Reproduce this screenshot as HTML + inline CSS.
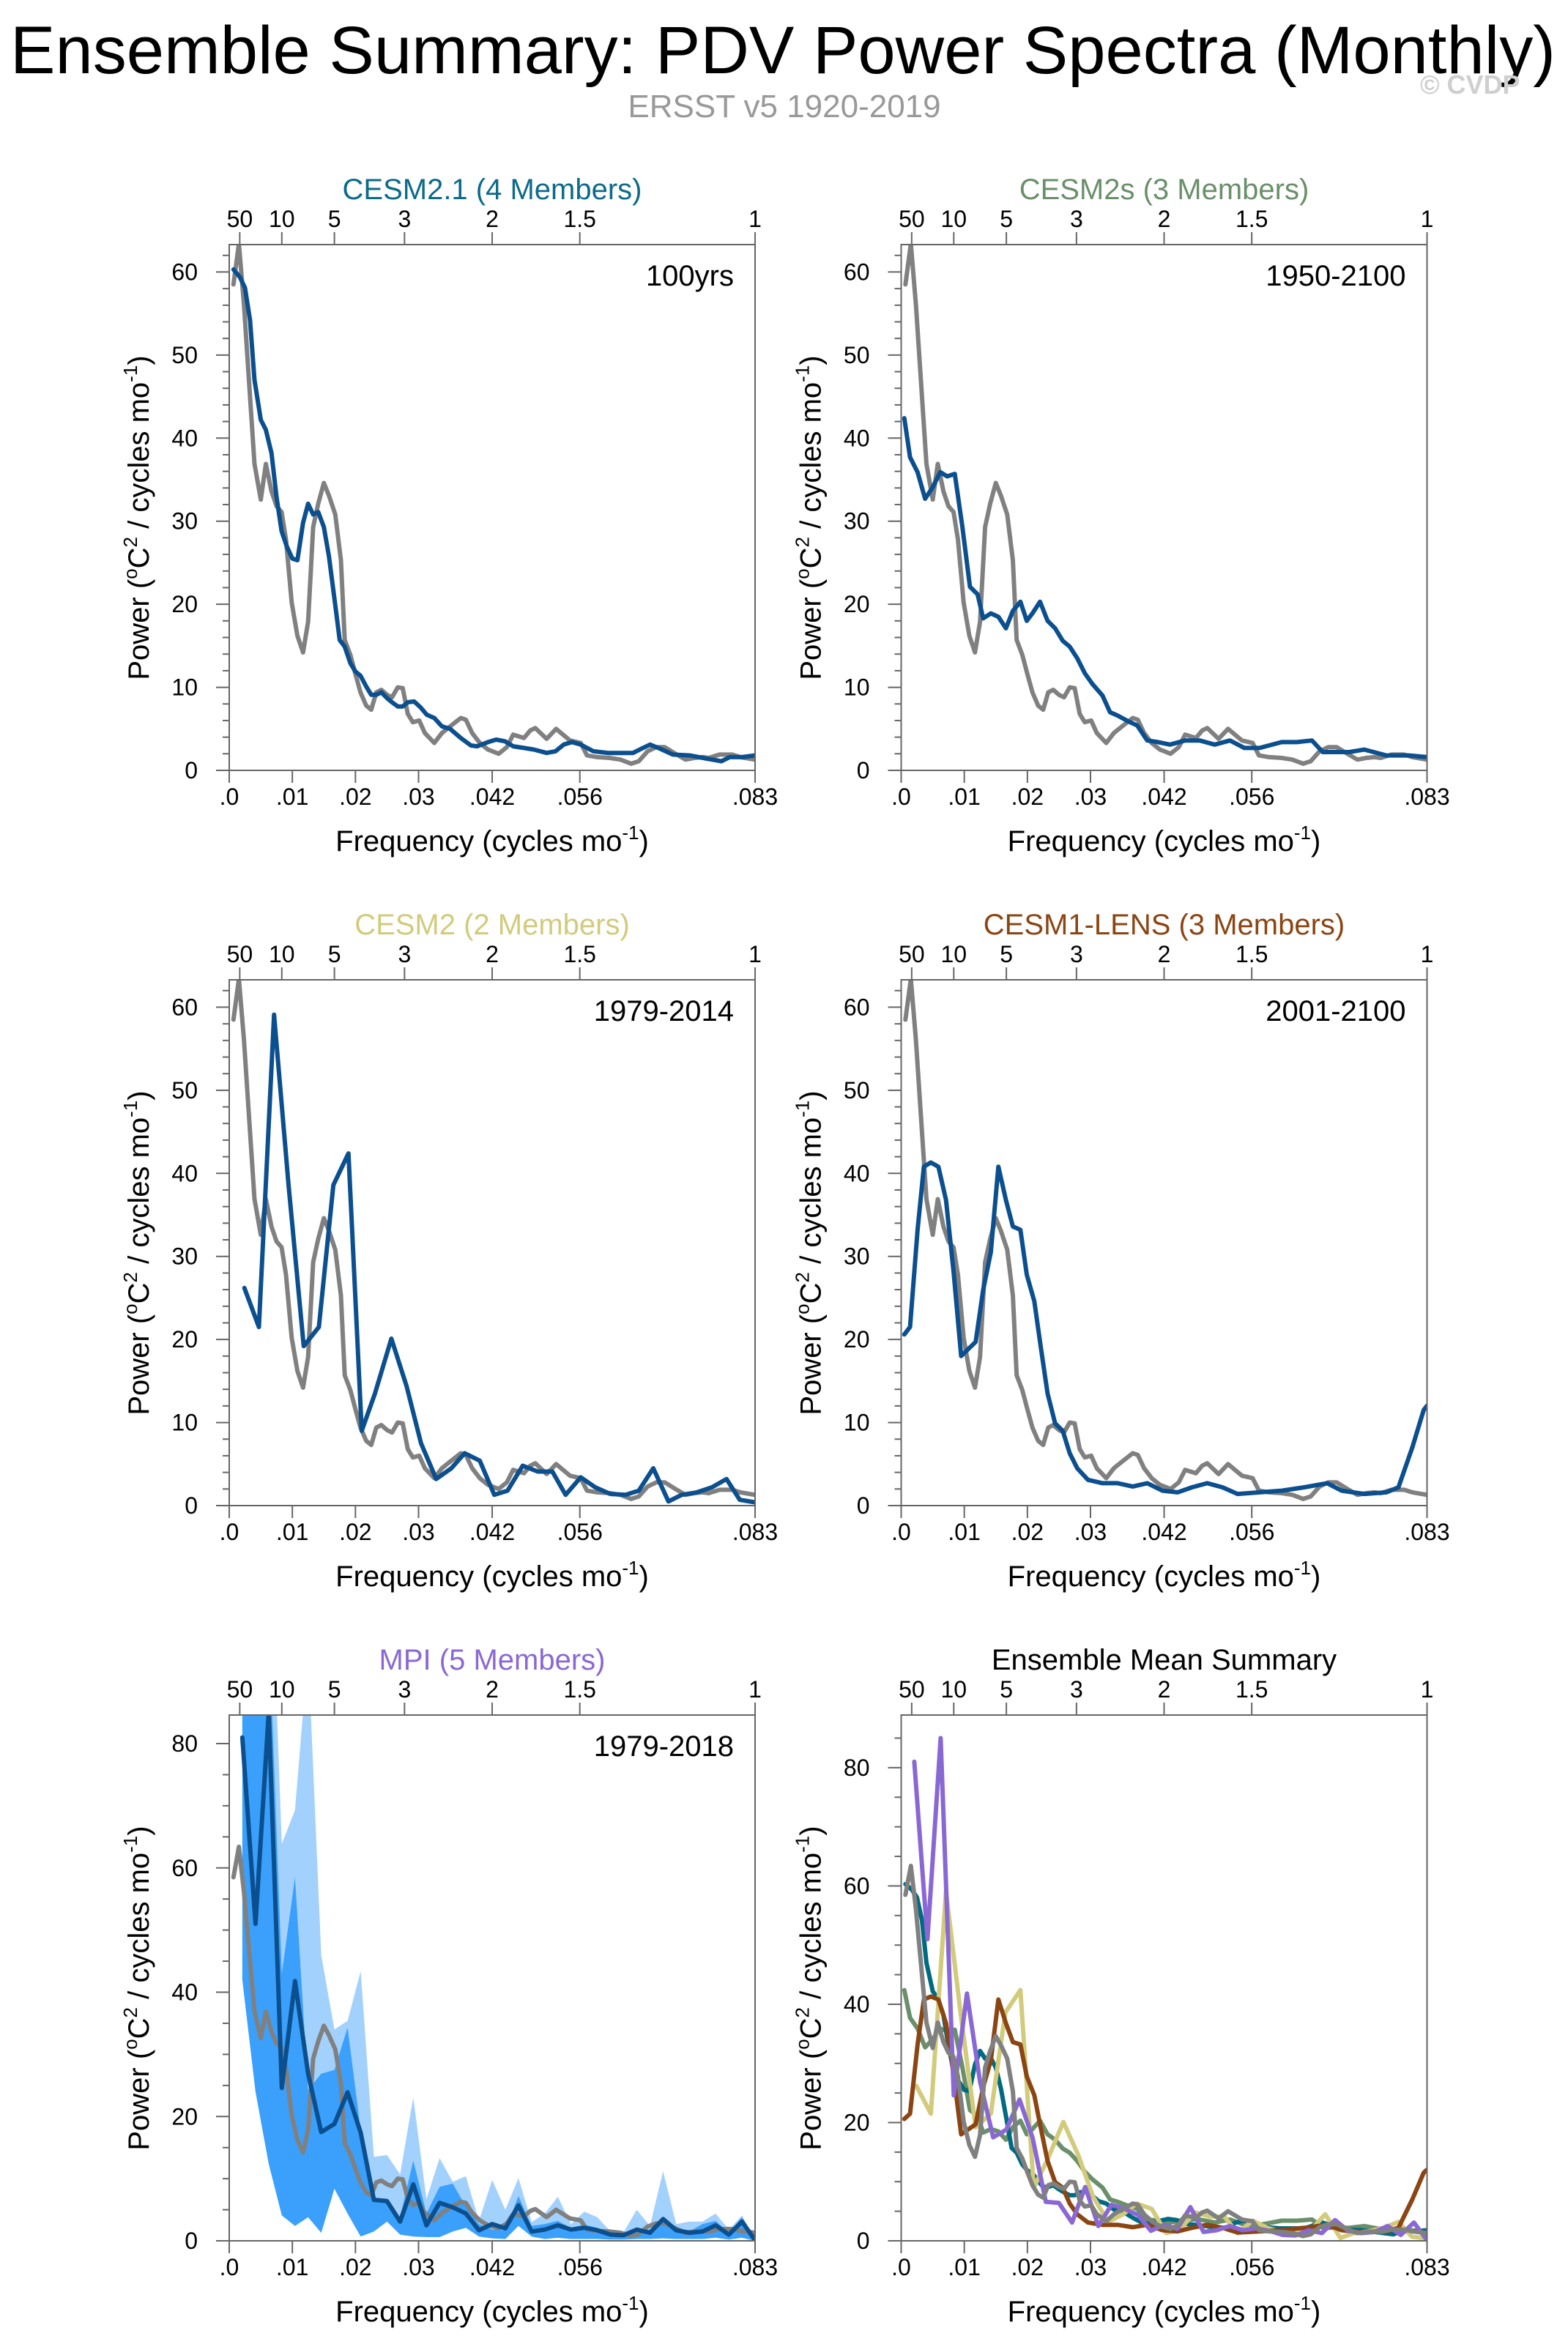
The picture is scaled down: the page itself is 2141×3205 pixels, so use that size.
<!DOCTYPE html>
<html><head><meta charset="utf-8"><title>Ensemble Summary: PDV Power Spectra (Monthly)</title>
<style>
html,body{margin:0;padding:0;background:#fff;}
svg{display:block;font-family:"Liberation Sans",Arial,sans-serif;}
</style></head>
<body>
<svg id="fig" xmlns="http://www.w3.org/2000/svg" width="2141" height="3205" viewBox="0 0 2141 3205">
<rect x="0" y="0" width="2141" height="3205" fill="#fff"/>
<text x="14" y="100" font-size="92" textLength="2110" lengthAdjust="spacingAndGlyphs" fill="#000">Ensemble Summary: PDV Power Spectra (Monthly)</text>
<text x="1071" y="160" font-size="44" text-anchor="middle" fill="#999">ERSST v5 1920-2019</text>
<text x="1939" y="128" font-size="36" font-weight="bold" fill="#cfcfcf">© CVDP</text>
<g id="plots"></g>
</svg>
<script>
// ---------- DATA ----------
const obsFreq=[0.00067,0.00153,0.00233,0.0033,0.004,0.005,0.0058,0.0067,0.0075,0.0083,0.009,0.0099,0.0108,0.0117,0.0125,0.0133,0.0141,0.015,0.0158,0.0168,0.0177,0.0183,0.0192,0.02,0.0208,0.0217,0.0225,0.0233,0.0241,0.025,0.0258,0.0267,0.0275,0.0283,0.0291,0.0301,0.031,0.0325,0.0337,0.035,0.0367,0.0375,0.0385,0.0397,0.041,0.0427,0.044,0.045,0.0467,0.0477,0.0485,0.0503,0.0518,0.054,0.0557,0.0567,0.0583,0.0603,0.062,0.0637,0.0649,0.0663,0.0677,0.069,0.0707,0.0723,0.0737,0.075,0.076,0.0777,0.0797,0.081,0.0833];
const obsPow=[58.5,63.4,56.1,45,36.9,32.6,36.9,33.6,31.8,31.1,27.8,20.2,16.2,14.2,17.9,29.3,32.1,34.6,33.1,30.8,25.3,15.7,13.9,11.6,9.4,7.8,7.3,9.4,9.7,9.1,8.8,10,9.9,6.8,5.8,6,4.5,3.3,4.5,5.3,6.3,6.1,4.5,3.3,2.5,2,2.8,4.3,3.9,4.8,5.1,3.8,5,3.6,3.3,1.8,1.6,1.5,1.3,0.8,1.1,2.3,2.8,2.8,2,1.3,1.5,1.6,1.5,1.9,1.9,1.6,1.3];

const c21Freq=[0.00067,0.00167,0.0025,0.0033,0.004,0.005,0.0058,0.0067,0.0075,0.0083,0.0091,0.01,0.0108,0.0117,0.0125,0.0133,0.0141,0.015,0.0158,0.0167,0.0175,0.0183,0.0192,0.02,0.0208,0.0217,0.0225,0.0233,0.0241,0.025,0.0258,0.0267,0.0275,0.0283,0.0293,0.0303,0.0313,0.0325,0.0337,0.035,0.0367,0.0383,0.0393,0.041,0.0423,0.0437,0.045,0.0467,0.0483,0.0503,0.0517,0.053,0.0543,0.0557,0.0577,0.06,0.0623,0.064,0.0653,0.0667,0.0683,0.0703,0.073,0.0757,0.078,0.0793,0.0813,0.0833];
const c21Pow=[60.3,59.4,58.1,54.2,47,42.2,41,38.2,32.9,28.8,27,25.5,25.3,29.8,32.1,30.8,31.1,29.3,25.8,20.5,15.7,14.9,12.9,11.9,11.4,10.1,9.1,9.1,9.4,8.7,8.2,7.7,7.7,8.2,8.3,7.6,6.7,6.3,5.3,5,3.9,3,2.9,3.4,3.7,3.5,2.9,2.7,2.5,2.1,2.3,3.1,3.4,3.1,2.3,2.1,2.1,2.1,2.6,3.1,2.6,1.9,1.8,1.4,1.1,1.6,1.6,1.8];

const c2sFreq=[0.0005,0.0014,0.0026,0.0038,0.005,0.0062,0.0073,0.0085,0.0097,0.0109,0.0121,0.013,0.0142,0.0154,0.0166,0.0177,0.0189,0.0199,0.0208,0.022,0.0232,0.0244,0.0256,0.0267,0.0279,0.0291,0.0303,0.0319,0.0331,0.0343,0.036,0.0374,0.039,0.0407,0.0426,0.045,0.0473,0.0497,0.0521,0.0544,0.0568,0.0603,0.0627,0.0651,0.0668,0.071,0.0734,0.0769,0.0805,0.0833];
const c2sPow=[42.4,37.7,35.9,32.7,34.1,35.9,35.4,35.7,29.3,22.1,21.2,18.3,18.9,18.5,17.1,19.2,20.3,18,18.9,20.3,18,17.1,15.6,14.9,13.5,11.7,10.4,9,7,6.6,5.9,5.4,3.6,3.4,3.1,3.6,3.6,3.1,3.6,2.7,2.7,3.4,3.4,3.6,2.2,2.2,2.5,1.8,1.8,1.6];

const c2Freq=[0.0024,0.0047,0.0071,0.0094,0.0118,0.0142,0.0165,0.0189,0.021,0.0231,0.0257,0.0281,0.0304,0.0328,0.0352,0.0373,0.0397,0.042,0.0441,0.0465,0.0489,0.0512,0.0533,0.0557,0.058,0.0604,0.0628,0.0649,0.0672,0.0696,0.0717,0.0741,0.0765,0.0788,0.0809,0.0833];
const c2Pow=[26.2,21.5,59.1,38.6,19.2,21.5,38.6,42.4,9,13.5,20.1,14.4,7.5,3.2,4.5,6.3,5.4,1.3,1.8,4.8,4.1,4.1,1.3,3.4,2.2,1.4,1.3,1.8,4.5,0.5,1.3,1.6,2.2,3.2,0.7,0.4];

const lensFreq=[0.0005,0.0014,0.0026,0.0036,0.0047,0.0059,0.0071,0.0083,0.0095,0.0107,0.0118,0.013,0.0142,0.0154,0.0166,0.0177,0.0189,0.0199,0.0211,0.022,0.0232,0.0244,0.0256,0.0267,0.0279,0.0296,0.0319,0.0343,0.0367,0.039,0.0414,0.0438,0.0461,0.0485,0.0509,0.0533,0.0568,0.0603,0.0639,0.0675,0.0698,0.0734,0.0769,0.0788,0.081,0.0828,0.0833];
const lensPow=[20.6,21.5,33.2,40.8,41.3,40.8,36.8,28.2,18,18.9,19.7,26,30.5,40.8,36.8,33.6,33.2,27.8,24.6,19.7,13.5,9.9,9,6.3,4.5,3.1,2.7,2.7,2.3,2.7,1.8,1.6,2.2,2.7,2.2,1.4,1.6,1.8,2.2,2.7,1.8,1.4,1.6,2.2,7,11.5,12];

const mpiFreq=[0.00208,0.00417,0.00625,0.00833,0.01042,0.0125,0.01458,0.01667,0.01875,0.02083,0.02292,0.025,0.02708,0.02917,0.03125,0.03333,0.03542,0.0375,0.03958,0.04167,0.04375,0.04583,0.04792,0.05,0.05208,0.05417,0.05625,0.05833,0.06042,0.0625,0.06458,0.06667,0.06875,0.07083,0.07292,0.075,0.07708,0.07917,0.08125,0.08333];
const mpiPow=[81,51,85,24.6,41.8,26.9,17.5,18.8,23.9,17.4,6.6,6.4,3.1,9.1,2.5,6.1,5.4,4.4,1.7,2.7,2,5.7,1.5,1.8,2.5,1.8,2.1,1.7,1,0.9,1.8,1.3,3.5,1.7,1.3,1.5,2.5,1,3.1,0.1];
const mpiMax=[100,110,120,63.9,69.3,95,46,34,35.4,43.4,13.5,13.8,10.7,23.1,6.7,13.3,9.5,10.4,3.2,9.8,5,10.1,3,4.4,7.1,2.7,4.7,3.8,1.5,1.4,5,2.4,11.2,2.7,3.1,3.1,4.4,1.8,4.1,0.1];
const mpiUpper=[100,100,100,43,58.5,24.3,26.9,27.5,34.3,17.8,6.7,6.1,3.8,12.9,4.4,8.7,9.2,5.5,2.7,1.8,1.7,7.2,2.4,2.7,3.2,2.1,2.6,2.1,1.3,1.2,1.5,1.8,3.5,2.1,1.5,2.7,3.2,1.3,3.8,0.1];
const mpiLower=[42,24,12.4,4.1,2.4,3.8,1.3,8.4,4.4,0.7,1.5,3.1,1,0.7,0.6,0.6,1.5,2.1,0.7,0.4,0.3,2.4,0.7,0.3,0.5,0.3,0.3,0.3,0.2,0.2,0.3,0.3,0.4,0.3,0.3,0.3,0.5,0.2,0.5,0];

const xTickVals=[0,0.01,0.02,0.03,0.04167,0.05556,0.08333];
const xTickLabels=[".0",".01",".02",".03",".042",".056",".083"];
const topTickVals=[1/600,1/120,1/60,1/36,1/24,1/18,1/12];
const topTickLabels=["50","10","5","3","2","1.5","1"];

// ---------- LAYOUT ----------
const NS="http://www.w3.org/2000/svg";
const root=document.getElementById('plots');
const COLX=[313,1230.5], ROWT=[334,1338,2342], PW=718, PH=718, XMAX=0.08333;
function mk(tag,attrs,parent){const e=document.createElementNS(NS,tag);for(const k in attrs)e.setAttribute(k,attrs[k]);(parent||root).appendChild(e);return e;}

function panel(col,row,ymax,major,minor,title,titleColor,label,pname){
  const L=COLX[col],T=ROWT[row],B=T+PH,R=L+PW;
  const g=mk('g',{});
  
  
  const P={L,T,B,R,g,ymax,
    x:f=>L+f/XMAX*PW,
    y:v=>B-v/ymax*PH};
  const cid='clip-'+pname;
  const cp=mk('clipPath',{id:cid},g);mk('rect',{x:L,y:T,width:PW,height:PH},cp);
  P.data=mk('g',{'clip-path':'url(#'+cid+')'},g);
  
  
  const t=mk('text',{x:(L+R)/2,y:T-62,'font-size':40,'text-anchor':'middle',fill:titleColor},g);t.textContent=title;
  
  
  if(label){const lb=mk('text',{x:R-29,y:T+56,'font-size':40,'text-anchor':'end',fill:'#000'},g);lb.textContent=label;
    
    }
  const ax=mk('g',{stroke:'#666','stroke-width':2},g);
  
  
  for(let v=0;v<=ymax+1e-6;v+=minor){
    const yy=P.y(v);const isMaj=Math.abs(v/major-Math.round(v/major))<1e-6;
    mk('line',{x1:L,x2:L-(isMaj?18:9),y1:yy,y2:yy},ax);
    if(isMaj){const tl=mk('text',{x:L-43,y:yy+11,'font-size':32,'text-anchor':'end',fill:'#000',stroke:'none'},g);tl.textContent=String(v);
      
      }
  }
  xTickVals.forEach((f,i)=>{const xx=P.x(f);mk('line',{x1:xx,x2:xx,y1:B,y2:B+17},ax);
    const tl=mk('text',{x:xx,y:B+47,'font-size':32,'text-anchor':'middle',fill:'#000',stroke:'none'},g);tl.textContent=xTickLabels[i];
    
    });
  topTickVals.forEach((f,i)=>{const xx=P.x(f);mk('line',{x1:xx,x2:xx,y1:T,y2:T-17},ax);
    const tl=mk('text',{x:xx,y:T-24,'font-size':32,'text-anchor':'middle',fill:'#000',stroke:'none'},g);tl.textContent=topTickLabels[i];
    
    });
  const yt=mk('text',{transform:`translate(${L-110},${(T+B)/2+14}) rotate(-90)`,'font-size':40,'text-anchor':'middle',fill:'#000'},g);
  yt.innerHTML='Power (<tspan dy="-16" font-size="26">o</tspan><tspan dy="16">C</tspan><tspan dy="-16" font-size="26">2</tspan><tspan dy="16"> / cycles mo</tspan><tspan dy="-16" font-size="26">-1</tspan><tspan dy="16">)</tspan>';
  
  
  const xt=mk('text',{x:(L+R)/2,y:B+110,'font-size':40,'text-anchor':'middle',fill:'#000'},g);
  xt.innerHTML='Frequency (cycles mo<tspan dy="-16" font-size="26">-1</tspan><tspan dy="16">)</tspan>';
  
  
  P.frame=()=>{const fr=mk('rect',{x:L,y:T,width:PW,height:PH,fill:'none',stroke:'#666','stroke-width':2},g);
    
    };
  return P;
}
function line(P,fx,fy,color,name,w){
  const d=fx.map((f,i)=>(i?'L':'M')+P.x(f).toFixed(1)+','+P.y(fy[i]).toFixed(1)).join('');
  const p=mk('path',{d,fill:'none',stroke:color,'stroke-width':w||6,'stroke-linejoin':'round','stroke-linecap':'round'},P.data);
  
  
}
function band(P,fx,hi,lo,color,name){
  let d='';fx.forEach((f,i)=>{d+=(i?'L':'M')+P.x(f).toFixed(1)+','+P.y(hi[i]).toFixed(1);});
  for(let i=fx.length-1;i>=0;i--)d+='L'+P.x(fx[i]).toFixed(1)+','+P.y(lo[i]).toFixed(1);
  const p=mk('path',{d:d+'Z',fill:color,stroke:'none'},P.data);
  
  
}
const OBS='#808080', BLUE='#0b4f8f';
let P;
P=panel(0,0,63.3,10,2,'CESM2.1 (4 Members)','#0c6a8a','100yrs','panel-cesm21');
line(P,obsFreq,obsPow,OBS,'obs-line');line(P,c21Freq,c21Pow,BLUE,'cesm21-mean-line');P.frame();
P=panel(1,0,63.3,10,2,'CESM2s (3 Members)','#6a8f6a','1950-2100','panel-cesm2s');
line(P,obsFreq,obsPow,OBS,'obs-line');line(P,c2sFreq,c2sPow,BLUE,'cesm2s-mean-line');P.frame();
P=panel(0,1,63.3,10,2,'CESM2 (2 Members)','#d2cb7c','1979-2014','panel-cesm2');
line(P,obsFreq,obsPow,OBS,'obs-line');line(P,c2Freq,c2Pow,BLUE,'cesm2-mean-line');P.frame();
P=panel(1,1,63.3,10,2,'CESM1-LENS (3 Members)','#8b4513','2001-2100','panel-cesm1-lens');
line(P,obsFreq,obsPow,OBS,'obs-line');line(P,lensFreq,lensPow,BLUE,'lens-mean-line');P.frame();
P=panel(0,2,84.6,20,5,'MPI (5 Members)','#8a68d4','1979-2018','panel-mpi');
band(P,mpiFreq,mpiMax,mpiLower,'#a3d1fd','mpi-range-band');
band(P,mpiFreq,mpiUpper,mpiLower,'#3aa0fb','mpi-spread-band');
line(P,obsFreq,obsPow,OBS,'obs-line');line(P,mpiFreq,mpiPow,BLUE,'mpi-mean-line');P.frame();
P=panel(1,2,88.9,20,5,'Ensemble Mean Summary','#000','','panel-summary');
line(P,c2sFreq,c2sPow,'#6a8f6a','summary-cesm2s');
line(P,c21Freq,c21Pow,'#006a80','summary-cesm21');
line(P,c2Freq,c2Pow,'#d2cb7c','summary-cesm2');
line(P,lensFreq,lensPow,'#8b4513','summary-lens');
line(P,mpiFreq,mpiPow,'#8a68d4','summary-mpi');
line(P,obsFreq,obsPow,OBS,'summary-obs');
P.frame();
</script>
</body></html>
